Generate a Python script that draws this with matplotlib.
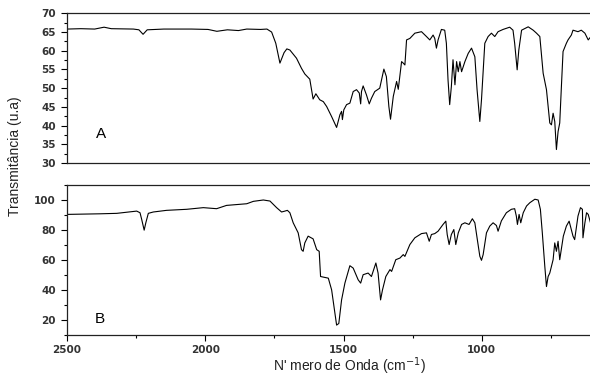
import matplotlib
matplotlib.use('Agg')
import matplotlib.pyplot as plt
from matplotlib.ticker import MultipleLocator

# espectro A (numero de onda, transmitancia)
wn_a = [2500, 2450, 2400, 2366, 2340, 2260, 2240, 2225, 2210, 2150, 2050, 1990, 1958, 1920,
        1880, 1850, 1800, 1777, 1760, 1745, 1730, 1715, 1705, 1694, 1670, 1652, 1640, 1622,
        1610, 1600, 1586, 1573, 1561, 1543, 1525, 1513, 1507, 1504, 1499, 1489, 1477, 1465,
        1453, 1443, 1438, 1435, 1429, 1417, 1407, 1399, 1387, 1369, 1354, 1345, 1336, 1330,
        1320, 1308, 1302, 1290, 1284, 1278, 1272, 1260, 1242, 1218, 1200, 1188, 1176, 1170,
        1164, 1158, 1146, 1134, 1128, 1122, 1116, 1110, 1104, 1097, 1091, 1085, 1079, 1073,
        1061, 1049, 1037, 1025, 1017, 1007, 1001, 989, 977, 965, 953, 941, 923, 899, 887,
        881, 872, 866, 856, 832, 814, 802, 790, 778, 766, 754, 748, 742, 736, 730, 724, 718,
        712, 706, 694, 688, 676, 670, 652, 640, 627, 615, 605]
t_a = [65.8, 65.9, 65.8, 66.3, 65.9, 65.8, 65.6, 64.4, 65.6, 65.8, 65.8, 65.7, 65.2, 65.6,
       65.4, 65.8, 65.7, 65.8, 65.0, 62.0, 56.7, 59.5, 60.5, 60.2, 58.0, 55.3, 53.8, 52.4,
       47.1, 48.5, 46.9, 46.4, 45.1, 42.4, 39.5, 42.9, 43.8, 41.6, 44.2, 45.6, 46.0, 49.1,
       49.6, 48.7, 45.8, 49.1, 50.6, 48.2, 45.8, 47.3, 49.1, 50.0, 55.1, 53.1, 45.1, 41.7,
       47.8, 51.8, 49.7, 57.1, 56.7, 56.2, 62.9, 63.3, 64.7, 65.1, 63.8, 62.9, 64.2, 63.3,
       60.7, 62.9, 65.7, 65.5, 62.0, 52.2, 45.6, 50.4, 57.6, 50.9, 57.1, 54.4, 57.1, 54.4,
       57.1, 59.3, 60.7, 58.4, 49.6, 41.1, 46.9, 62.0, 63.8, 64.7, 63.8, 65.1, 65.7, 66.3, 65.5,
       62.0, 54.9, 60.2, 65.5, 66.4, 65.5, 64.7, 63.8, 54.0, 49.6, 40.7, 40.2, 43.3, 41.1, 33.6,
       38.4, 40.7, 50.4, 59.8, 62.0, 62.9, 64.2, 65.5, 65.1, 65.5, 64.7, 62.9, 63.8]

# espectro B
wn_b = [2500, 2380, 2320, 2248, 2236, 2230, 2221, 2215, 2206, 2188, 2140, 2067, 2007, 1959,
        1923, 1850, 1826, 1790, 1766, 1742, 1724, 1712, 1703, 1694, 1682, 1664, 1652, 1646,
        1640, 1628, 1610, 1597, 1588, 1583, 1573, 1555, 1543, 1531, 1525, 1517, 1507, 1495,
        1477, 1465, 1447, 1438, 1429, 1411, 1399, 1383, 1375, 1366, 1359, 1347, 1332, 1326,
        1311, 1296, 1284, 1278, 1260, 1242, 1218, 1200, 1190, 1182, 1170, 1158, 1140, 1130,
        1125, 1118, 1110, 1101, 1094, 1085, 1073, 1061, 1046, 1034, 1025, 1017, 1007, 1001,
        995, 983, 971, 959, 947, 941, 929, 911, 893, 881, 875, 871, 865, 859, 850, 838, 826,
        808, 796, 788, 781, 772, 766, 760, 754, 742, 736, 730, 724, 718, 705, 694, 684, 670,
        664, 652, 643, 636, 634, 627, 621, 615, 605]
t_b = [90.4, 90.8, 91.1, 92.6, 91.5, 87.1, 79.9, 84.8, 91.1, 92.0, 93.1, 93.8, 94.9, 94.2,
       96.4, 97.5, 99.1, 100.0, 99.3, 94.9, 92.0, 92.6, 93.1, 91.5, 84.8, 78.1, 66.9, 65.8,
       71.4, 75.9, 74.1, 66.9, 65.8, 49.0, 48.6, 47.9, 40.1, 24.4, 16.6, 17.7, 33.4, 44.6,
       56.2, 54.6, 46.8, 44.6, 50.2, 51.3, 49.0, 58.0, 51.3, 33.4, 40.1, 49.0, 53.6, 52.4,
       60.2, 61.3, 63.6, 62.4, 70.3, 74.8, 77.6, 78.1, 72.5, 77.0, 77.6, 79.2, 83.7, 85.9,
       77.0, 70.3, 77.0, 80.3, 70.3, 78.1, 83.7, 84.8, 83.7, 87.5, 84.8, 74.8, 62.5, 59.8,
       63.6, 78.1, 82.6, 84.8, 83.0, 79.2, 86.1, 91.5, 93.8, 94.2, 89.3, 83.7, 90.4, 84.8,
       91.5, 96.0, 98.2, 100.5, 100.0, 93.8, 78.1, 55.8, 42.3, 49.0, 51.3, 60.2, 71.4, 65.8,
       72.5, 60.2, 75.9, 82.6, 85.9, 75.9, 73.6, 89.3, 94.9, 93.8, 74.8, 84.8, 91.5, 90.4, 83.7]

fig = plt.figure(figsize=(5.9, 3.76), dpi=100)
ax1 = fig.add_axes([0.1136, 0.5665, 0.8904, 0.398])
ax2 = fig.add_axes([0.1136, 0.109, 0.8904, 0.399])

ax1.plot(wn_a, t_a, color='black', linewidth=0.8)
ax2.plot(wn_b, t_b, color='black', linewidth=0.8)

for ax in (ax1, ax2):
    ax.set_xlim(2500, 600)
    ax.xaxis.set_major_locator(MultipleLocator(500))
    ax.xaxis.set_minor_locator(MultipleLocator(250))
    ax.tick_params(which='both', direction='out', top=False, right=False,
                   labelsize=7.5, labelcolor='#333333', width=0.8)
    ax.tick_params(which='major', length=4, pad=4)
    ax.tick_params(which='minor', length=2.5)
    for s in ax.spines.values():
        s.set_linewidth(0.9)
        s.set_color('#222222')

ax1.set_ylim(30, 70)
ax1.yaxis.set_major_locator(MultipleLocator(5))
ax1.yaxis.set_minor_locator(MultipleLocator(2.5))
ax1.tick_params(axis='x', which='both', bottom=False, labelbottom=False)

ax2.set_ylim(10, 110)
ax2.yaxis.set_major_locator(MultipleLocator(20))
ax2.yaxis.set_minor_locator(MultipleLocator(10))
ax2.tick_params(axis='x', which='major', pad=3)

for ax in (ax1, ax2):
    for lab in ax.get_xticklabels() + ax.get_yticklabels():
        lab.set_fontweight('bold')

ax1.text(0.055, 0.17, 'A', transform=ax1.transAxes, fontsize=11, family='Liberation Sans')
ax2.text(0.052, 0.08, 'B', transform=ax2.transAxes, fontsize=11, family='Liberation Sans')

fig.text(0.026, 0.585, 'Transmitância (u.a)', rotation=90, ha='center', va='center',
         fontsize=10, family='Liberation Sans', color='#222222')
fig.text(0.593, 0.026, "N' mero de Onda (cm$^{-1}$)", ha='center', va='center',
         fontsize=10, family='Liberation Sans', color='#222222')

fig.savefig('out.png', dpi=100)
